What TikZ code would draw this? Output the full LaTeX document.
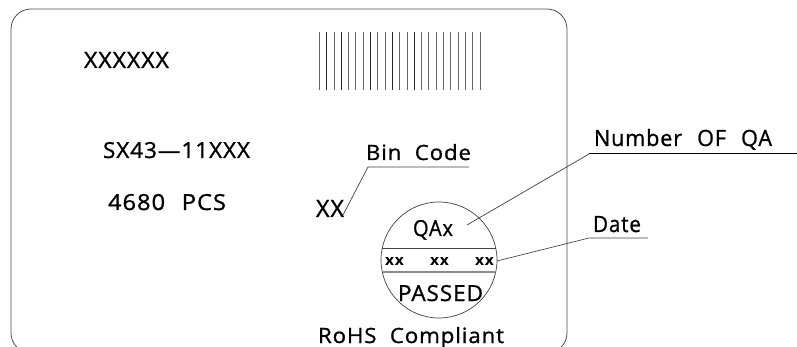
\documentclass[tikz,border=0pt]{standalone}
\usepackage{fontspec}
\usepackage{graphicx}
\setmainfont{Open Sans}[FakeBold=1.0,LetterSpace=4]
\newfontfamily\boldlab{Open Sans}[UprightFont=* Bold,LetterSpace=6]
\tikzset{
  lab/.style={anchor=base west,inner sep=0pt,outer sep=0pt,text=black},
  outline/.style={draw=black!70,line width=0.8pt,rounded corners=20pt},
  leader/.style={draw=black!75,line width=0.7pt},
  leaderstrong/.style={draw=black,line width=1pt},
  barthin/.style={draw=black!60,line width=0.7pt},
  barthick/.style={draw=black!85,line width=1.2pt},
}
\newcommand{\fit}[3]{\resizebox{#1pt}{#2pt}{#3}}
\begin{document}
\begin{tikzpicture}[x=1pt,y=-1pt]
\useasboundingbox (0,0) rectangle (797,347);
\begin{scope}
\clip (0,0) rectangle (797,347);
\draw[outline] (11,9) rectangle (567,353);
\end{scope}
% barcode
\foreach \i in {0,2,4,5,6,8,9,11,12,14,15,16,17,18,19,20,21,22}{
  \draw[barthin] ({319.3+7.3*\i},32) -- ({319.3+7.3*\i},90);}
\foreach \i in {1,3,7,10,13}{
  \draw[barthick] ({319.3+7.3*\i},32) -- ({319.3+7.3*\i},90);}
% texts
\node[lab] (code) at (84,68) {\fit{85}{16}{XXXXXX}};
\node[lab] (part) at (103,158) {\fit{147}{16}{SX43---11XXX}};
\node[lab] (pcs) at (108,210) {\fit{118}{16}{4680\hspace{.7em}PCS}};
\node[lab] (bin) at (366,160) {\fit{105}{16}{Bin\hspace{.6em}Code}};
\node[lab] (binv) at (316,217) {\fit{28}{17}{XX}};
\node[lab] (qa) at (413,236) {\fit{40}{16}{QAx}};
\node[lab] (xa) at (385,265) {\fit{19}{8}{\boldlab xx}};
\node[lab] (xb) at (430,265) {\fit{19}{8}{\boldlab xx}};
\node[lab] (xc) at (475,265) {\fit{19}{8}{\boldlab xx}};
\node[lab] (passed) at (398,301) {\fit{85}{16}{PASSED}};
\node[lab] (rohs) at (318,343) {\fit{186}{16}{RoHS\hspace{.6em}Compliant}};
\node[lab] (num) at (594,146) {\fit{178}{17}{Number\hspace{.7em}OF\hspace{.7em}QA}};
\node[lab] (date) at (593,232) {\fit{48}{16}{Date}};
% stamp
\node[draw=black!75,line width=0.7pt,circle,minimum size=116pt,inner sep=0pt] (stamp) at (439,260) {};
\draw[leader] (382.3,248) -- (495.7,248);
\draw[draw=black!45,line width=1.2pt] (382.8,272) -- (495.2,272);
% leaders
\coordinate (binA) at (343,215); \coordinate (binB) at (368,167); \coordinate (binC) at (469,167);
\coordinate (numA) at (467,225); \coordinate (numB) at (589,154); \coordinate (numC) at (797,154);
\coordinate (dateA) at (497,261); \coordinate (dateB) at (589,238); \coordinate (dateC) at (648,238);
\draw[leader] (binA) -- (binB) -- (binC);
\draw[leader] (numA) -- (numB);
\draw[leaderstrong] (numB) -- (numC);
\draw[leader] (dateA) -- (dateB) -- (dateC);
\end{tikzpicture}
\end{document}
